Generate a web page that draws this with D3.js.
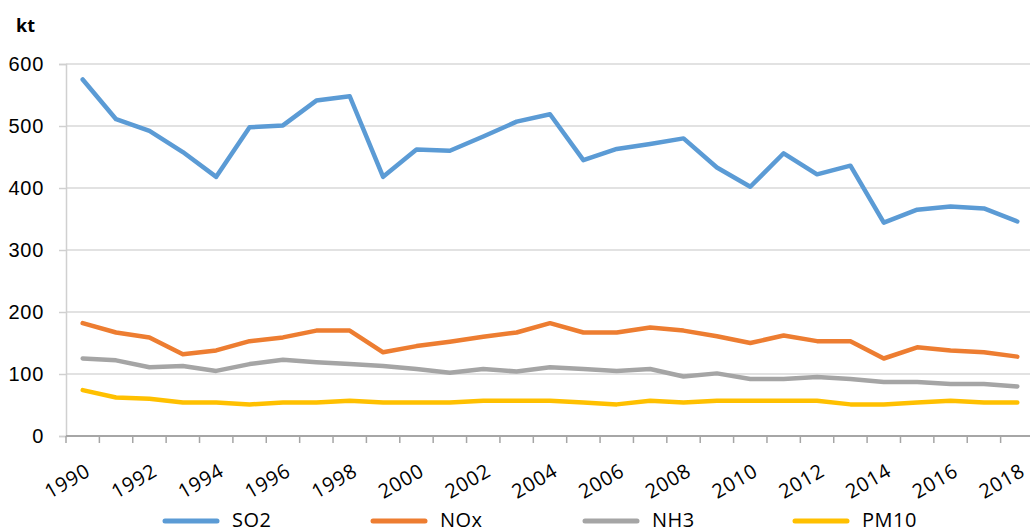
<!DOCTYPE html>
<html>
<head>
<meta charset="utf-8">
<script src="https://cdn.jsdelivr.net/npm/d3@7"></script>
<style>
  body { margin: 0; background: #fff; }
  svg { display: block; font-family: "Open Sans", "Liberation Sans", sans-serif; }
</style>
</head>
<body>
<div id="chart"></div>
<script>
// data (kt)
const years = d3.range(1990, 2019).map(String);
const so2 = [575, 511, 492, 458, 418, 498, 501, 541, 548, 418, 462, 460, 483, 507, 519,
             445, 463, 471, 480, 433, 402, 456, 422, 436, 344, 365, 370, 367, 346];
const nox = [182, 167, 159, 132, 138, 153, 159, 170, 170, 135, 145, 152, 160, 167, 182,
             167, 167, 175, 170, 161, 150, 162, 153, 153, 125, 143, 138, 135, 128];
const nh3 = [125, 122, 111, 113, 105, 116, 123, 119, 116, 113, 108, 102, 108, 104, 111,
             108, 105, 108, 96, 101, 92, 92, 95, 92, 87, 87, 84, 84, 80];
const pm10 = [74, 62, 60, 54, 54, 51, 54, 54, 57, 54, 54, 54, 57, 57, 57,
              54, 51, 57, 54, 57, 57, 57, 57, 51, 51, 54, 57, 54, 54];
const seriesNames = ["SO2", "NOx", "NH3", "PM10"];
const seriesColors = ["#5b9bd5", "#ed7d31", "#a5a5a5", "#ffc000"];
const yTicks = [0, 100, 200, 300, 400, 500, 600];

const width = 1030, height = 532;
const margin = {top: 64, left: 66, bottom: 96};
const plotRight = 1034;

const svg = d3.select("#chart").append("svg")
    .attr("width", width)
    .attr("height", height);

const x = d3.scaleBand()
    .domain(years)
    .range([margin.left, plotRight]);

const y = d3.scaleLinear()
    .domain([0, 600])
    .range([height - margin.bottom, margin.top]);

// grid
svg.append("g")
    .selectAll("line")
    .data(yTicks.filter(d => d > 0))
    .join("line")
    .attr("x1", margin.left)
    .attr("x2", width)
    .attr("y1", d => y(d))
    .attr("y2", d => y(d))
    .attr("stroke", "#d9d9d9")
    .attr("stroke-width", 1.5);

// y axis
const yAxis = svg.append("g")
    .attr("transform", `translate(${margin.left},0)`)
    .call(d3.axisLeft(y).tickValues(yTicks).tickSize(7).tickPadding(15));
yAxis.select(".domain").attr("stroke", "#d0d0d0").attr("stroke-width", 1.5);
yAxis.selectAll(".tick line").attr("stroke", "#d0d0d0").attr("stroke-width", 1.5);
yAxis.selectAll(".tick text")
    .attr("font-size", 20)
    .attr("letter-spacing", 0.7)
    .attr("fill", "#000");

// x axis: ticks on category boundaries
const xAxisY = y(0);
const boundaries = years.map(d => x(d)).concat([plotRight]);
svg.append("g")
    .selectAll("line")
    .data(boundaries)
    .join("line")
    .attr("x1", d => d)
    .attr("x2", d => d)
    .attr("y1", xAxisY)
    .attr("y2", xAxisY + 7)
    .attr("stroke", "#a6a6a6")
    .attr("stroke-width", 1.5);
svg.append("line")
    .attr("x1", margin.left)
    .attr("x2", width)
    .attr("y1", xAxisY)
    .attr("y2", xAxisY)
    .attr("stroke", "#a6a6a6")
    .attr("stroke-width", 2);

svg.append("g")
    .selectAll("text")
    .data(years.filter((d, i) => i % 2 === 0))
    .join("text")
    .attr("transform", d => `translate(${x(d) + x.bandwidth() / 2 + 9},${xAxisY + 39}) rotate(-30)`)
    .attr("text-anchor", "end")
    .attr("font-size", 20)
    .attr("letter-spacing", 0.7)
    .attr("fill", "#000")
    .text(d => d);

// unit label
svg.append("text")
    .attr("x", 16)
    .attr("y", 32)
    .attr("font-size", 18)
    .attr("font-weight", "bold")
    .text("kt");

// lines
const allSeries = [so2, nox, nh3, pm10];
const line = d3.line()
    .x((d, i) => x(years[i]) + x.bandwidth() / 2)
    .y(d => y(d));

svg.append("g")
    .selectAll("path")
    .data(allSeries)
    .join("path")
    .attr("d", d => line(d))
    .attr("fill", "none")
    .attr("stroke", (d, i) => seriesColors[i])
    .attr("stroke-width", 4.5)
    .attr("stroke-linejoin", "round")
    .attr("stroke-linecap", "round");

// legend
const legendX = [165, 373, 585, 795];
const legend = svg.append("g")
    .selectAll("g")
    .data(seriesNames)
    .join("g")
    .attr("transform", (d, i) => `translate(${legendX[i]},521)`);
legend.append("line")
    .attr("x1", 0)
    .attr("x2", 52)
    .attr("stroke", (d, i) => seriesColors[i])
    .attr("stroke-width", 5)
    .attr("stroke-linecap", "round");
legend.append("text")
    .attr("x", 67)
    .attr("y", 6)
    .attr("font-size", 20)
    .attr("letter-spacing", 0.5)
    .attr("fill", "#000")
    .text(d => d);
</script>
</body>
</html>
